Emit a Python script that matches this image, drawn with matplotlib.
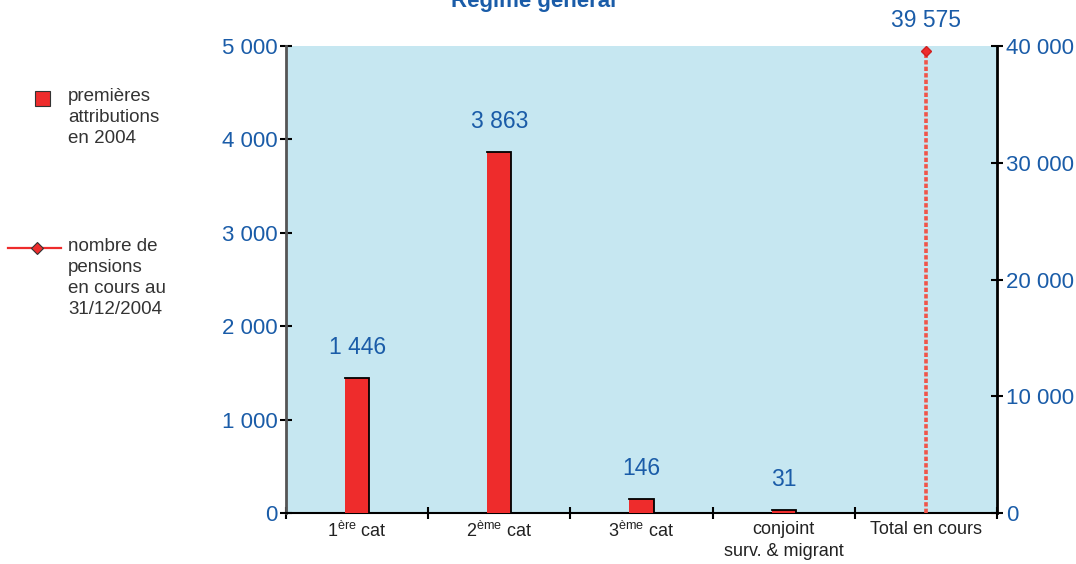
import matplotlib
matplotlib.use("Agg")
import matplotlib.pyplot as plt
from matplotlib.lines import Line2D
from matplotlib.patches import Rectangle

# data
categories = ["1$^{\\mathrm{ère}}$ cat", "2$^{\\mathrm{ème}}$ cat", "3$^{\\mathrm{ème}}$ cat",
              "conjoint\nsurv. & migrant", "Total en cours"]
first_awards = [1446, 3863, 146, 31]
total_running = 39575
left_ticks = [0, 1000, 2000, 3000, 4000, 5000]
right_ticks = [0, 10000, 20000, 30000, 40000]

BLUE = "#1a5ca8"
RED = "#ee2c2c"
BG = "#c6e7f1"
FONT = "Liberation Sans"

plt.rcParams["font.family"] = [FONT, "DejaVu Sans"]
plt.rcParams["mathtext.fontset"] = "custom"
plt.rcParams["mathtext.rm"] = FONT
plt.rcParams["mathtext.it"] = FONT


def fmt(v):
    return f"{v:,}".replace(",", " ")


fig = plt.figure(figsize=(10.76, 5.64), dpi=100)
fig.patch.set_facecolor("white")
ax = fig.add_axes([286 / 1076, 51 / 564, 711 / 1076, 467 / 564])
ax.set_facecolor(BG)

# bars with a dark top/right edge like the original
width = 0.17
xs = list(range(len(first_awards)))
ax.bar(xs, first_awards, width=width, color=RED, zorder=3)
for x, v in zip(xs, first_awards):
    ax.plot([x - width / 2, x + width / 2, x + width / 2], [v, v, 0],
            color="black", lw=1.3, zorder=4, solid_joinstyle="miter")
    ax.annotate(fmt(v), (x, v), xytext=(0, 22), textcoords="offset points",
                ha="center", va="center", color=BLUE, fontsize=16.5)

ax.set_xlim(-0.5, len(categories) - 0.5)
ax.set_ylim(0, 5000)
ax.set_yticks(left_ticks)
ax.set_yticklabels([fmt(t) for t in left_ticks])
ax.set_xticks([i + 0.5 for i in range(-1, len(categories))])
ax.set_xticklabels([])
ax.set_xticks(range(len(categories)), minor=True)
ax.set_xticklabels(categories, minor=True, fontsize=13, color="#222222", linespacing=1.35)
ax.tick_params(axis="x", which="major", direction="inout", length=9, width=1.5, color="black")
ax.tick_params(axis="x", which="minor", length=0, pad=6)
ax.tick_params(axis="y", direction="inout", length=9, width=1.5, color="black",
               labelcolor=BLUE, labelsize=16, pad=1.5)
ax.spines["top"].set_visible(False)
ax.spines["right"].set_visible(False)
ax.spines["left"].set_color("#555555")
ax.spines["left"].set_linewidth(2)
ax.spines["bottom"].set_linewidth(1.5)

# right axis for the running total
ax2 = ax.twinx()
ax2.set_ylim(0, 40000)
ax2.set_yticks(right_ticks)
ax2.set_yticklabels([fmt(t) for t in right_ticks])
ax2.tick_params(axis="y", direction="inout", length=9, width=1.5, color="black",
                labelcolor=BLUE, labelsize=16, pad=2)
for s in ("top", "left", "bottom"):
    ax2.spines[s].set_visible(False)
ax2.spines["right"].set_linewidth(2)
tx = len(categories) - 1
ax2.plot([tx, tx], [0, total_running], color="#f0554a", lw=2.6,
         linestyle=(0, (1.2, 0.6)), zorder=3)
ax2.plot([tx], [total_running], marker="D", ms=5, color=RED, mec="#d02020", zorder=4)
ax2.annotate(fmt(total_running), (tx, total_running), xytext=(0, 22),
             textcoords="offset points", ha="center", va="center",
             color=BLUE, fontsize=16.5, annotation_clip=False)

# title, cut off at the top like the original
fig.text(534 / 1076, 1 - 7 / 564, "Régime général", ha="center", va="baseline",
         color=BLUE, fontsize=16, fontweight="bold")

# legend drawn by hand on the left
fig.add_artist(Rectangle((35 / 1076, 1 - 106 / 564), 15 / 1076, 15 / 564,
                         transform=fig.transFigure, facecolor=RED,
                         edgecolor="#333333", lw=0.8))
fig.text(68 / 1076, 1 - 88 / 564, "premières\nattributions\nen 2004", ha="left",
         va="top", fontsize=13.5, color="#333333", linespacing=1.3)
fig.add_artist(Line2D([8 / 1076, 61 / 1076], [1 - 248 / 564, 1 - 248 / 564],
                      transform=fig.transFigure, color=RED, lw=1.6))
fig.add_artist(Line2D([37 / 1076], [1 - 248 / 564], transform=fig.transFigure,
                      marker="D", ms=6, color=RED, mec="#333333", mew=0.8))
fig.text(68 / 1076, 1 - 238 / 564, "nombre de\npensions\nen cours au\n31/12/2004",
         ha="left", va="top", fontsize=13.5, color="#333333", linespacing=1.3)

fig.savefig("out.png", dpi=100, facecolor="white")
plt.close(fig)
